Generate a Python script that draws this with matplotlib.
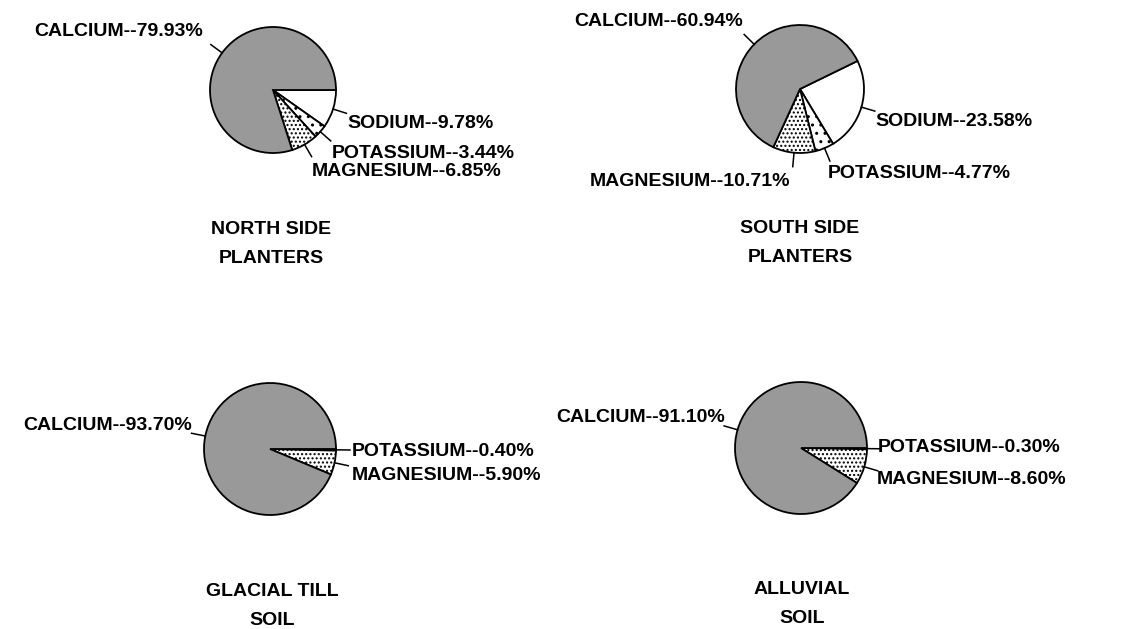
import numpy as np
import matplotlib
matplotlib.use("Agg")
import matplotlib.pyplot as plt

plt.rcParams["font.family"] = ["Liberation Sans", "DejaVu Sans"]
plt.rcParams["hatch.linewidth"] = 1.0

# data: percentage of each cation, listed clockwise from the start angle
elements = ["SODIUM", "POTASSIUM", "MAGNESIUM", "CALCIUM"]
north_side = [9.78, 3.44, 6.85, 79.93]
south_side = [23.58, 4.77, 10.71, 60.94]
glacial_till = [None, 0.40, 5.90, 93.70]
alluvial = [None, 0.30, 8.60, 91.10]
titles = ["NORTH SIDE\nPLANTERS", "SOUTH SIDE\nPLANTERS",
          "GLACIAL TILL\nSOIL", "ALLUVIAL\nSOIL"]

# wedge styles per element
styles = {
    "SODIUM": dict(facecolor="white"),
    "POTASSIUM": dict(facecolor="white", hatch=".."),
    "MAGNESIUM": dict(facecolor="white", hatch="...."),
    "CALCIUM": dict(facecolor="#999999"),
}

W, H = 1136, 629

# layout in pixels (y measured from the top): centre, radius, start angle,
# title position and label anchors
layout = [
    dict(center=(273, 90), r=63, start=0, title=(271, 244),
         labels={"SODIUM": (347, 123, "left"), "POTASSIUM": (332, 153, "left"),
                 "MAGNESIUM": (312, 172, "left"), "CALCIUM": (203, 32, "right")}),
    dict(center=(800, 89), r=64, start=26, title=(800, 243),
         labels={"SODIUM": (875, 122, "left"), "POTASSIUM": (828, 174, "left"),
                 "MAGNESIUM": (790, 182, "right"), "CALCIUM": (743, 22, "right")}),
    dict(center=(270, 449), r=66, start=0, title=(272, 606),
         labels={"POTASSIUM": (352, 452, "left"), "MAGNESIUM": (352, 475, "left"),
                 "CALCIUM": (192, 425, "right")}),
    dict(center=(801, 448), r=66, start=0, title=(802, 604),
         labels={"POTASSIUM": (878, 448, "left"), "MAGNESIUM": (877, 480, "left"),
                 "CALCIUM": (725, 418, "right")}),
]

fig = plt.figure(figsize=(W / 100, H / 100), dpi=100)
ax = fig.add_axes([0, 0, 1, 1])

for values, title, lay in zip([north_side, south_side, glacial_till, alluvial],
                              titles, layout):
    names = [e for e, v in zip(elements, values) if v is not None]
    vals = [v for v in values if v is not None]
    cx, cy = lay["center"][0], H - lay["center"][1]
    r = lay["r"]

    wedges, _ = ax.pie(vals, center=(cx, cy), radius=r, startangle=lay["start"],
                       counterclock=False, frame=True,
                       wedgeprops=dict(edgecolor="black", linewidth=1.3))
    for w, name, pct in zip(wedges, names, vals):
        w.set_facecolor(styles[name]["facecolor"])
        if "hatch" in styles[name]:
            w.set_hatch(styles[name]["hatch"])

        # short radial leader at the middle of the wedge
        mid = np.deg2rad((w.theta1 + w.theta2) / 2)
        x0, y0 = cx + r * np.cos(mid), cy + r * np.sin(mid)
        x1, y1 = cx + (r + 14) * np.cos(mid), cy + (r + 14) * np.sin(mid)
        ax.plot([x0, x1], [y0, y1], color="black", lw=1.1)

        tx, ty, ha = lay["labels"][name]
        ax.text(tx, H - ty, f"{name}--{pct:.2f}%", ha=ha, va="center",
                fontsize=14, fontweight="bold", color="black")

    ax.text(lay["title"][0], H - lay["title"][1], title, ha="center",
            va="center", fontsize=14, fontweight="bold", linespacing=1.85,
            color="black")

ax.set_xlim(0, W)
ax.set_ylim(0, H)
ax.set_aspect("equal")
ax.axis("off")

fig.savefig("out.png", dpi=100, facecolor="white")
